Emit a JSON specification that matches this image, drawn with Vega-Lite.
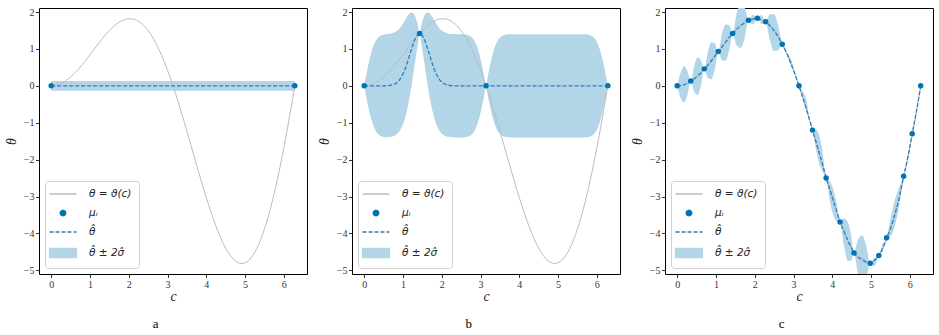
{
  "$schema": "https://vega.github.io/schema/vega-lite/v6.json",
  "padding": {"left": 3, "top": 6, "right": 0, "bottom": 0},
  "spacing": 8,
  "background": "white",
  "datasets": {
    "truth": [
      {"c":0,"y":0},{"c":0.1,"y":0.01},{"c":0.2,"y":0.04},{"c":0.3,"y":0.089},{"c":0.4,"y":0.156},{"c":0.5,"y":0.24},{"c":0.6,"y":0.339},{"c":0.7,"y":0.451},{"c":0.8,"y":0.574},{"c":0.9,"y":0.705},
      {"c":1.0,"y":0.841},{"c":1.1,"y":0.98},{"c":1.2,"y":1.118},{"c":1.3,"y":1.253},{"c":1.4,"y":1.38},{"c":1.5,"y":1.496},{"c":1.6,"y":1.599},{"c":1.7,"y":1.686},{"c":1.8,"y":1.753},{"c":1.9,"y":1.798},
      {"c":2.0,"y":1.819},{"c":2.1,"y":1.813},{"c":2.2,"y":1.779},{"c":2.3,"y":1.715},{"c":2.4,"y":1.621},{"c":2.5,"y":1.496},{"c":2.6,"y":1.34},{"c":2.7,"y":1.154},{"c":2.8,"y":0.938},{"c":2.9,"y":0.694},
      {"c":3.0,"y":0.423},{"c":3.1,"y":0.129},{"c":3.2,"y":-0.187},{"c":3.3,"y":-0.52},{"c":3.4,"y":-0.869},{"c":3.5,"y":-1.228},{"c":3.6,"y":-1.593},{"c":3.7,"y":-1.96},{"c":3.8,"y":-2.325},{"c":3.9,"y":-2.682},
      {"c":4.0,"y":-3.027},{"c":4.1,"y":-3.355},{"c":4.2,"y":-3.661},{"c":4.3,"y":-3.94},{"c":4.4,"y":-4.187},{"c":4.5,"y":-4.399},{"c":4.6,"y":-4.571},{"c":4.7,"y":-4.7},{"c":4.8,"y":-4.782},{"c":4.9,"y":-4.814},
      {"c":5.0,"y":-4.795},{"c":5.1,"y":-4.722},{"c":5.2,"y":-4.594},{"c":5.3,"y":-4.411},{"c":5.4,"y":-4.173},{"c":5.5,"y":-3.88},{"c":5.6,"y":-3.535},{"c":5.7,"y":-3.139},{"c":5.8,"y":-2.695},{"c":5.9,"y":-2.206},
      {"c":6.0,"y":-1.677},{"c":6.1,"y":-1.111},{"c":6.2,"y":-0.515},{"c":6.2832,"y":0}
    ],
    "pa": [{"c":0,"y":0},{"c":6.2832,"y":0}],
    "ba": [{"c":0,"m":0,"lo":-0.13,"hi":0.13},{"c":6.2832,"m":0,"lo":-0.13,"hi":0.13}],
    "pb": [{"c":0,"y":0},{"c":1.43,"y":1.416},{"c":3.1416,"y":0},{"c":6.2832,"y":0}],
    "bb": [
      {"c":0,"m":0,"lo":0,"hi":0},{"c":0.05,"m":0,"lo":-0.277,"hi":0.277},{"c":0.1,"m":0,"lo":-0.539,"hi":0.539},{"c":0.15,"m":0,"lo":-0.769,"hi":0.769},{"c":0.2,"m":0,"lo":-0.963,"hi":0.963},{"c":0.25,"m":0,"lo":-1.113,"hi":1.113},{"c":0.3,"m":0,"lo":-1.223,"hi":1.223},{"c":0.35,"m":0,"lo":-1.297,"hi":1.297},{"c":0.4,"m":0,"lo":-1.345,"hi":1.345},{"c":0.45,"m":0,"lo":-1.372,"hi":1.372},{"c":0.5,"m":0,"lo":-1.387,"hi":1.387},
      {"c":0.6,"m":0.006,"lo":-1.392,"hi":1.404},{"c":0.7,"m":0.02,"lo":-1.38,"hi":1.42},{"c":0.83,"m":0.079,"lo":-1.319,"hi":1.477},{"c":0.88,"m":0.126,"lo":-1.268,"hi":1.52},{"c":0.93,"m":0.191,"lo":-1.196,"hi":1.578},{"c":0.98,"m":0.28,"lo":-1.092,"hi":1.652},{"c":1.03,"m":0.394,"lo":-0.951,"hi":1.739},{"c":1.08,"m":0.531,"lo":-0.766,"hi":1.828},{"c":1.13,"m":0.69,"lo":-0.533,"hi":1.913},{"c":1.18,"m":0.86,"lo":-0.253,"hi":1.973},{"c":1.23,"m":1.028,"lo":0.065,"hi":1.991},{"c":1.28,"m":1.182,"lo":0.413,"hi":1.951},{"c":1.33,"m":1.307,"lo":0.768,"hi":1.846},{"c":1.38,"m":1.388,"lo":1.111,"hi":1.665},
      {"c":1.43,"m":1.416,"lo":1.416,"hi":1.416},
      {"c":1.48,"m":1.388,"lo":1.111,"hi":1.665},{"c":1.53,"m":1.307,"lo":0.768,"hi":1.846},{"c":1.58,"m":1.182,"lo":0.413,"hi":1.951},{"c":1.63,"m":1.028,"lo":0.065,"hi":1.991},{"c":1.68,"m":0.86,"lo":-0.253,"hi":1.973},{"c":1.73,"m":0.69,"lo":-0.533,"hi":1.913},{"c":1.78,"m":0.531,"lo":-0.766,"hi":1.828},{"c":1.83,"m":0.394,"lo":-0.951,"hi":1.739},{"c":1.88,"m":0.28,"lo":-1.092,"hi":1.652},{"c":1.93,"m":0.191,"lo":-1.196,"hi":1.578},{"c":1.98,"m":0.126,"lo":-1.268,"hi":1.52},{"c":2.03,"m":0.079,"lo":-1.319,"hi":1.477},{"c":2.16,"m":0.02,"lo":-1.38,"hi":1.42},{"c":2.26,"m":0.006,"lo":-1.392,"hi":1.404},{"c":2.4,"m":0,"lo":-1.4,"hi":1.4},
      {"c":2.5416,"m":0,"lo":-1.398,"hi":1.398},{"c":2.6416,"m":0,"lo":-1.387,"hi":1.387},{"c":2.6916,"m":0,"lo":-1.372,"hi":1.372},{"c":2.7416,"m":0,"lo":-1.345,"hi":1.345},{"c":2.7916,"m":0,"lo":-1.297,"hi":1.297},{"c":2.8416,"m":0,"lo":-1.223,"hi":1.223},{"c":2.8916,"m":0,"lo":-1.113,"hi":1.113},{"c":2.9416,"m":0,"lo":-0.963,"hi":0.963},{"c":2.9916,"m":0,"lo":-0.769,"hi":0.769},{"c":3.0416,"m":0,"lo":-0.539,"hi":0.539},{"c":3.0916,"m":0,"lo":-0.277,"hi":0.277},
      {"c":3.1416,"m":0,"lo":0,"hi":0},
      {"c":3.1916,"m":0,"lo":-0.277,"hi":0.277},{"c":3.2416,"m":0,"lo":-0.539,"hi":0.539},{"c":3.2916,"m":0,"lo":-0.769,"hi":0.769},{"c":3.3416,"m":0,"lo":-0.963,"hi":0.963},{"c":3.3916,"m":0,"lo":-1.113,"hi":1.113},{"c":3.4416,"m":0,"lo":-1.223,"hi":1.223},{"c":3.4916,"m":0,"lo":-1.297,"hi":1.297},{"c":3.5416,"m":0,"lo":-1.345,"hi":1.345},{"c":3.5916,"m":0,"lo":-1.372,"hi":1.372},{"c":3.6416,"m":0,"lo":-1.387,"hi":1.387},{"c":3.7416,"m":0,"lo":-1.398,"hi":1.398},
      {"c":3.9,"m":0,"lo":-1.4,"hi":1.4},{"c":4.7,"m":0,"lo":-1.4,"hi":1.4},{"c":5.5,"m":0,"lo":-1.4,"hi":1.4},
      {"c":5.6832,"m":0,"lo":-1.398,"hi":1.398},{"c":5.7832,"m":0,"lo":-1.387,"hi":1.387},{"c":5.8332,"m":0,"lo":-1.372,"hi":1.372},{"c":5.8832,"m":0,"lo":-1.345,"hi":1.345},{"c":5.9332,"m":0,"lo":-1.297,"hi":1.297},{"c":5.9832,"m":0,"lo":-1.223,"hi":1.223},{"c":6.0332,"m":0,"lo":-1.113,"hi":1.113},{"c":6.0832,"m":0,"lo":-0.963,"hi":0.963},{"c":6.1332,"m":0,"lo":-0.769,"hi":0.769},{"c":6.1832,"m":0,"lo":-0.539,"hi":0.539},{"c":6.2332,"m":0,"lo":-0.277,"hi":0.277},{"c":6.2832,"m":0,"lo":0,"hi":0}
    ],
    "pc": [
      {"c":0,"y":0},{"c":0.35,"y":0.13},{"c":0.7,"y":0.46},{"c":1.06,"y":0.93},{"c":1.43,"y":1.42},{"c":1.84,"y":1.78},{"c":2.07,"y":1.83},{"c":2.28,"y":1.74},{"c":2.71,"y":1.13},{"c":3.14,"y":0},
      {"c":3.49,"y":-1.2},{"c":3.84,"y":-2.5},{"c":4.2,"y":-3.69},{"c":4.56,"y":-4.53},{"c":4.98,"y":-4.81},{"c":5.2,"y":-4.6},{"c":5.4,"y":-4.12},{"c":5.84,"y":-2.45},{"c":6.06,"y":-1.3},{"c":6.28,"y":0}
    ],
    "bc": [
      {"c":0,"m":0,"lo":0,"hi":0},{"c":0.09,"m":0.008,"lo":-0.33,"hi":0.36},{"c":0.175,"m":0.03,"lo":-0.45,"hi":0.53},{"c":0.26,"m":0.07,"lo":-0.27,"hi":0.42},
      {"c":0.35,"m":0.13,"lo":0.13,"hi":0.13},{"c":0.44,"m":0.19,"lo":-0.17,"hi":0.54},{"c":0.525,"m":0.27,"lo":-0.25,"hi":0.77},{"c":0.61,"m":0.35,"lo":-0.01,"hi":0.7},
      {"c":0.7,"m":0.46,"lo":0.46,"hi":0.46},{"c":0.79,"m":0.56,"lo":0.21,"hi":0.91},{"c":0.88,"m":0.68,"lo":0.18,"hi":1.18},{"c":0.97,"m":0.8,"lo":0.45,"hi":1.15},
      {"c":1.06,"m":0.93,"lo":0.93,"hi":0.93},{"c":1.15,"m":1.05,"lo":0.7,"hi":1.39},{"c":1.245,"m":1.18,"lo":0.68,"hi":1.66},{"c":1.34,"m":1.31,"lo":0.96,"hi":1.65},
      {"c":1.43,"m":1.42,"lo":1.42,"hi":1.42},{"c":1.53,"m":1.53,"lo":1.11,"hi":1.95},{"c":1.635,"m":1.63,"lo":1.03,"hi":2.23},{"c":1.74,"m":1.71,"lo":1.29,"hi":2.13},
      {"c":1.84,"m":1.78,"lo":1.78,"hi":1.78},{"c":1.955,"m":1.81,"lo":1.66,"hi":1.93},
      {"c":2.07,"m":1.83,"lo":1.83,"hi":1.83},{"c":2.175,"m":1.79,"lo":1.67,"hi":1.92},
      {"c":2.28,"m":1.74,"lo":1.74,"hi":1.74},{"c":2.39,"m":1.63,"lo":1.25,"hi":1.94},{"c":2.495,"m":1.5,"lo":0.95,"hi":1.94},{"c":2.6,"m":1.34,"lo":0.96,"hi":1.65},
      {"c":2.71,"m":1.13,"lo":1.13,"hi":1.13},{"c":2.925,"m":0.63,"lo":0.58,"hi":0.75},
      {"c":3.14,"m":0,"lo":0,"hi":0},{"c":3.315,"m":-0.57,"lo":-0.62,"hi":-0.32},
      {"c":3.49,"m":-1.2,"lo":-1.2,"hi":-1.2},{"c":3.58,"m":-1.52,"lo":-1.72,"hi":-1.18},{"c":3.665,"m":-1.83,"lo":-2.11,"hi":-1.35},{"c":3.75,"m":-2.13,"lo":-2.33,"hi":-1.79},
      {"c":3.84,"m":-2.5,"lo":-2.5,"hi":-2.5},{"c":3.93,"m":-2.79,"lo":-3.07,"hi":-2.58},{"c":4.02,"m":-3.09,"lo":-3.49,"hi":-2.79},{"c":4.11,"m":-3.39,"lo":-3.67,"hi":-3.18},
      {"c":4.2,"m":-3.69,"lo":-3.69,"hi":-3.69},{"c":4.3,"m":-3.94,"lo":-4.32,"hi":-3.59},{"c":4.4,"m":-4.19,"lo":-4.74,"hi":-3.69},{"c":4.48,"m":-4.36,"lo":-4.75,"hi":-4.01},
      {"c":4.56,"m":-4.53,"lo":-4.53,"hi":-4.53},{"c":4.66,"m":-4.64,"lo":-5.1,"hi":-4.18},{"c":4.77,"m":-4.7,"lo":-5.35,"hi":-4.05},{"c":4.87,"m":-4.77,"lo":-5.23,"hi":-4.31},
      {"c":4.98,"m":-4.81,"lo":-4.81,"hi":-4.81},{"c":5.09,"m":-4.73,"lo":-4.88,"hi":-4.65},
      {"c":5.2,"m":-4.6,"lo":-4.6,"hi":-4.6},{"c":5.3,"m":-4.4,"lo":-4.48,"hi":-4.3},
      {"c":5.4,"m":-4.12,"lo":-4.12,"hi":-4.12},{"c":5.51,"m":-3.85,"lo":-4.06,"hi":-3.57},{"c":5.62,"m":-3.46,"lo":-3.76,"hi":-3.06},{"c":5.73,"m":-3.02,"lo":-3.23,"hi":-2.74},
      {"c":5.84,"m":-2.45,"lo":-2.45,"hi":-2.45},{"c":5.95,"m":-1.93,"lo":-1.98,"hi":-1.85},
      {"c":6.06,"m":-1.3,"lo":-1.3,"hi":-1.3},{"c":6.17,"m":-0.69,"lo":-0.74,"hi":-0.64},{"c":6.28,"m":0,"lo":0,"hi":0}
    ]
  },
  "hconcat": [
    {
      "width": 268, "height": 266,
      "title": {"text": "a", "orient": "bottom", "offset": 15, "frame": "bounds", "anchor": "middle"},
      "encoding": {
        "x": {"field": "c", "type": "quantitative", "scale": {"domain": [-0.314, 6.597], "nice": false, "zero": false}, "axis": {"values": [0,1,2,3,4,5,6], "title": "c"}},
        "color": {"datum": "mu", "type": "nominal",
          "scale": {"domain": ["truth","mu","mean","band"], "range": ["#bdbdbd","#0173b2","#2a7fbf","#b3d5e8"]},
          "legend": {
            "title": null, "orient": "bottom-left", "offset": 6, "padding": 7, "rowPadding": 7,
            "strokeColor": "#d0d0d0", "fillColor": "rgba(255,255,255,0.85)", "cornerRadius": 3,
            "labelFont": "DejaVu Sans", "labelFontStyle": "italic", "labelFontSize": 10.5, "labelColor": "#222222",
            "symbolSize": 100, "symbolOffset": 5, "labelOffset": 20,
            "labelExpr": "datum.value === 'truth' ? 'θ = ϑ(c)' : datum.value === 'mu' ? 'μᵢ' : datum.value === 'mean' ? 'θ̂' : 'θ̂ ± 2σ̂'",
            "encode": {"symbols": {"update": {
              "shape": {"signal": "datum.value === 'mu' ? 'circle' : datum.value === 'band' ? 'M-2.7,-0.92H2.7V0.92H-2.7Z' : 'M-2.7,0H2.7'"},
              "size": {"signal": "datum.value === 'mu' ? 30 : 100"},
              "stroke": {"signal": "datum.value === 'truth' ? '#bdbdbd' : datum.value === 'mean' ? '#2a7fbf' : 'transparent'"},
              "strokeDash": {"signal": "datum.value === 'mean' ? [4, 2] : [1, 0]"},
              "strokeWidth": {"value": 1.3},
              "opacity": {"value": 1}
            }}}
          }}
      },
      "layer": [
        {"data": {"name": "ba"}, "mark": {"type": "area", "opacity": 1},
         "encoding": {"y": {"field": "lo", "type": "quantitative", "scale": {"domain": [-5.1, 2.11], "nice": false, "zero": false}, "axis": {"values": [-5,-4,-3,-2,-1,0,1,2], "title": "θ", "labelOverlap": false, "tickCount": 8}}, "y2": {"field": "hi"}, "color": {"datum": "band"}}},
        {"data": {"name": "truth"}, "mark": {"type": "line", "strokeWidth": 1, "interpolate": "monotone"},
         "encoding": {"y": {"field": "y", "type": "quantitative"}, "color": {"datum": "truth"}}},
        {"data": {"name": "ba"}, "mark": {"type": "line", "strokeWidth": 1.3, "strokeDash": [4, 2]},
         "encoding": {"y": {"field": "m", "type": "quantitative"}, "color": {"datum": "mean"}}},
        {"data": {"name": "pa"}, "mark": {"type": "point", "filled": true, "size": 30, "opacity": 1},
         "encoding": {"y": {"field": "y", "type": "quantitative"}}}
      ]
    },
    {
      "width": 268, "height": 266,
      "title": {"text": "b", "orient": "bottom", "offset": 15, "frame": "bounds", "anchor": "middle"},
      "encoding": {
        "x": {"field": "c", "type": "quantitative", "scale": {"domain": [-0.314, 6.597], "nice": false, "zero": false}, "axis": {"values": [0,1,2,3,4,5,6], "title": "c"}},
        "color": {"datum": "mu", "type": "nominal",
          "scale": {"domain": ["truth","mu","mean","band"], "range": ["#bdbdbd","#0173b2","#2a7fbf","#b3d5e8"]},
          "legend": {
            "title": null, "orient": "bottom-left", "offset": 6, "padding": 7, "rowPadding": 7,
            "strokeColor": "#d0d0d0", "fillColor": "rgba(255,255,255,0.85)", "cornerRadius": 3,
            "labelFont": "DejaVu Sans", "labelFontStyle": "italic", "labelFontSize": 10.5, "labelColor": "#222222",
            "symbolSize": 100, "symbolOffset": 5, "labelOffset": 20,
            "labelExpr": "datum.value === 'truth' ? 'θ = ϑ(c)' : datum.value === 'mu' ? 'μᵢ' : datum.value === 'mean' ? 'θ̂' : 'θ̂ ± 2σ̂'",
            "encode": {"symbols": {"update": {
              "shape": {"signal": "datum.value === 'mu' ? 'circle' : datum.value === 'band' ? 'M-2.7,-0.92H2.7V0.92H-2.7Z' : 'M-2.7,0H2.7'"},
              "size": {"signal": "datum.value === 'mu' ? 30 : 100"},
              "stroke": {"signal": "datum.value === 'truth' ? '#bdbdbd' : datum.value === 'mean' ? '#2a7fbf' : 'transparent'"},
              "strokeDash": {"signal": "datum.value === 'mean' ? [4, 2] : [1, 0]"},
              "strokeWidth": {"value": 1.3},
              "opacity": {"value": 1}
            }}}
          }}
      },
      "layer": [
        {"data": {"name": "bb"}, "mark": {"type": "area", "opacity": 1, "interpolate": "monotone"},
         "encoding": {"y": {"field": "lo", "type": "quantitative", "scale": {"domain": [-5.1, 2.11], "nice": false, "zero": false}, "axis": {"values": [-5,-4,-3,-2,-1,0,1,2], "title": "θ", "labelOverlap": false, "tickCount": 8}}, "y2": {"field": "hi"}, "color": {"datum": "band"}}},
        {"data": {"name": "truth"}, "mark": {"type": "line", "strokeWidth": 1, "interpolate": "monotone"},
         "encoding": {"y": {"field": "y", "type": "quantitative"}, "color": {"datum": "truth"}}},
        {"data": {"name": "bb"}, "mark": {"type": "line", "strokeWidth": 1.3, "strokeDash": [4, 2], "interpolate": "monotone"},
         "encoding": {"y": {"field": "m", "type": "quantitative"}, "color": {"datum": "mean"}}},
        {"data": {"name": "pb"}, "mark": {"type": "point", "filled": true, "size": 30, "opacity": 1},
         "encoding": {"y": {"field": "y", "type": "quantitative"}}}
      ]
    },
    {
      "width": 268, "height": 266,
      "title": {"text": "c", "orient": "bottom", "offset": 15, "frame": "bounds", "anchor": "middle"},
      "encoding": {
        "x": {"field": "c", "type": "quantitative", "scale": {"domain": [-0.314, 6.597], "nice": false, "zero": false}, "axis": {"values": [0,1,2,3,4,5,6], "title": "c"}},
        "color": {"datum": "mu", "type": "nominal",
          "scale": {"domain": ["truth","mu","mean","band"], "range": ["#bdbdbd","#0173b2","#2a7fbf","#b3d5e8"]},
          "legend": {
            "title": null, "orient": "bottom-left", "offset": 6, "padding": 7, "rowPadding": 7,
            "strokeColor": "#d0d0d0", "fillColor": "rgba(255,255,255,0.85)", "cornerRadius": 3,
            "labelFont": "DejaVu Sans", "labelFontStyle": "italic", "labelFontSize": 10.5, "labelColor": "#222222",
            "symbolSize": 100, "symbolOffset": 5, "labelOffset": 20,
            "labelExpr": "datum.value === 'truth' ? 'θ = ϑ(c)' : datum.value === 'mu' ? 'μᵢ' : datum.value === 'mean' ? 'θ̂' : 'θ̂ ± 2σ̂'",
            "encode": {"symbols": {"update": {
              "shape": {"signal": "datum.value === 'mu' ? 'circle' : datum.value === 'band' ? 'M-2.7,-0.92H2.7V0.92H-2.7Z' : 'M-2.7,0H2.7'"},
              "size": {"signal": "datum.value === 'mu' ? 30 : 100"},
              "stroke": {"signal": "datum.value === 'truth' ? '#bdbdbd' : datum.value === 'mean' ? '#2a7fbf' : 'transparent'"},
              "strokeDash": {"signal": "datum.value === 'mean' ? [4, 2] : [1, 0]"},
              "strokeWidth": {"value": 1.3},
              "opacity": {"value": 1}
            }}}
          }}
      },
      "layer": [
        {"data": {"name": "bc"}, "mark": {"type": "area", "opacity": 1, "interpolate": "monotone", "clip": true},
         "encoding": {"y": {"field": "lo", "type": "quantitative", "scale": {"domain": [-5.1, 2.11], "nice": false, "zero": false}, "axis": {"values": [-5,-4,-3,-2,-1,0,1,2], "title": "θ", "labelOverlap": false, "tickCount": 8}}, "y2": {"field": "hi"}, "color": {"datum": "band"}}},
        {"data": {"name": "truth"}, "mark": {"type": "line", "strokeWidth": 1, "interpolate": "monotone"},
         "encoding": {"y": {"field": "y", "type": "quantitative"}, "color": {"datum": "truth"}}},
        {"data": {"name": "bc"}, "mark": {"type": "line", "strokeWidth": 1.3, "strokeDash": [4, 2], "interpolate": "monotone"},
         "encoding": {"y": {"field": "m", "type": "quantitative"}, "color": {"datum": "mean"}}},
        {"data": {"name": "pc"}, "mark": {"type": "point", "filled": true, "size": 30, "opacity": 1},
         "encoding": {"y": {"field": "y", "type": "quantitative"}}}
      ]
    }
  ],
  "resolve": {"scale": {"color": "independent"}, "legend": {"color": "independent"}},
  "config": {
    "view": {"stroke": "#000000", "strokeWidth": 1},
    "title": {"font": "Liberation Serif", "fontSize": 13, "fontWeight": "normal", "color": "#000000"},
    "axis": {"labelFont": "Liberation Serif", "labelFontSize": 10, "labelColor": "#333333", "tickColor": "#333333", "tickSize": 3.5, "domain": false, "grid": false, "labelPadding": 1.5, "labelOverlap": false,
             "titleFont": "Liberation Serif", "titleFontStyle": "italic", "titleFontWeight": "normal", "titleFontSize": 14, "titleColor": "#222222"},
    "axisY": {"titlePadding": 5},
    "axisX": {"titlePadding": 0}
  }
}
